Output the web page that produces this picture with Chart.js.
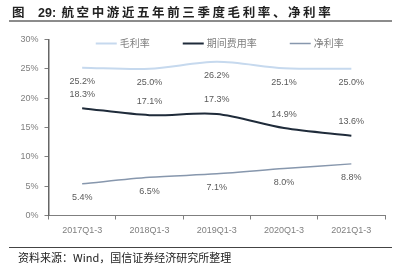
<!DOCTYPE html>
<html>
<head>
<meta charset="utf-8">
<script src="https://cdn.jsdelivr.net/npm/chart.js@4.4.1/dist/chart.umd.min.js"></script>
<style>
  body { margin: 0; background: #fff; }
  #wrap { position: relative; width: 394px; height: 268px; overflow: hidden; }
  #theChart { position: absolute; left: 0; top: 0; }
  #title { position: absolute; left: 12px; top: 2px; font: bold 12.5px "Noto Sans CJK SC", sans-serif; color: #222; letter-spacing: 2.6px; white-space: nowrap; }
  #title b { font-family: "Liberation Sans", Arial, sans-serif; letter-spacing: 0; }
  #topLine { position: absolute; left: 9px; top: 20px; width: 383px; height: 2px; background: #8c8c8c; }
  #bottomLine { position: absolute; left: 9px; top: 247px; width: 383px; height: 1px; background: #444; }
  #source { position: absolute; left: 18px; top: 249px; font: 11px "Noto Sans CJK SC", sans-serif; color: #222; white-space: nowrap; }
</style>
</head>
<body>
<div id="wrap">
  <canvas id="theChart" width="394" height="268"></canvas>
  <div id="title">图&nbsp;&nbsp;<b>29:</b>&nbsp;航空中游近五年前三季度毛利率、净利率</div>
  <div id="topLine"></div>
  <div id="bottomLine"></div>
  <div id="source">资料来源：Wind，国信证券经济研究所整理</div>
</div>
<script>
let ctx = document.getElementById("theChart").getContext("2d");

const years = ["2017Q1-3", "2018Q1-3", "2019Q1-3", "2020Q1-3", "2021Q1-3"];
const grossMargin = [25.2, 25.0, 26.2, 25.1, 25.0];
const expenseRate = [18.3, 17.1, 17.3, 14.9, 13.6];
const netMargin = [5.4, 6.5, 7.1, 8.0, 8.8];
const yTicks = [0, 5, 10, 15, 20, 25, 30];

const labelColor = "#595959";
const axisColor = "#7f7f7f";

// value labels: above or below each point
const valueLabels = {
  id: "valueLabels",
  afterDatasetsDraw(chart) {
    let c = chart.ctx;
    c.save();
    c.font = "9px 'Liberation Sans', Arial, sans-serif";
    c.fillStyle = labelColor;
    c.textAlign = "center";
    c.textBaseline = "middle";
    chart.data.datasets.forEach((ds, i) => {
      let meta = chart.getDatasetMeta(i);
      meta.data.forEach((pt, j) => {
        c.fillText(ds.data[j].toFixed(1) + "%", pt.x, pt.y + ds.labelShift);
      });
    });
    c.restore();
  }
};

// legend drawn inside the plot, near the top
const innerLegend = {
  id: "innerLegend",
  afterDraw(chart) {
    let c = chart.ctx;
    let area = chart.chartArea;
    c.save();
    c.font = "10px 'Noto Sans CJK SC', sans-serif";
    c.textBaseline = "middle";
    const lineW = 21, gap = 3, spacing = 33;
    let items = chart.data.datasets.map(ds => ({ ds: ds, w: lineW + gap + c.measureText(ds.label).width }));
    let total = items.reduce((s, it) => s + it.w, 0) + spacing * (items.length - 1);
    let x = (area.left + area.right) / 2 + 3 - total / 2;
    let y = 43.5;
    items.forEach(it => {
      c.strokeStyle = it.ds.borderColor;
      c.lineWidth = it.ds.borderWidth;
      c.beginPath();
      c.moveTo(x, y);
      c.lineTo(x + lineW, y);
      c.stroke();
      c.fillStyle = axisColor;
      c.fillText(it.ds.label, x + lineW + gap, y);
      x += it.w + spacing;
    });
    c.restore();
  }
};

let currentChart = new Chart(ctx, {
  type: "line",
  data: {
    labels: years,
    datasets: [
      { label: "毛利率", data: grossMargin, borderColor: "#c6d9ee", borderWidth: 2, labelShift: 14 },
      { label: "期间费用率", data: expenseRate, borderColor: "#1f2b3a", borderWidth: 2, labelShift: -14 },
      { label: "净利率", data: netMargin, borderColor: "#8797ad", borderWidth: 1.5, labelShift: 14 },
    ],
  },
  options: {
    responsive: false,
    animation: false,
    layout: { padding: { left: 0, right: 9, top: 39.5, bottom: 30 } },
    elements: {
      point: { radius: 0 },
      line: { tension: 0.3, fill: false },
    },
    plugins: {
      legend: { display: false },
      tooltip: { enabled: false },
    },
    scales: {
      x: {
        offset: true,
        grid: { display: true, drawOnChartArea: false, tickLength: 4, color: axisColor, offset: true },
        border: { color: axisColor, width: 1 },
        ticks: { color: axisColor, font: { size: 9, family: "'Liberation Sans', Arial, sans-serif" }, padding: 6, maxRotation: 0 },
        afterFit(scale) { scale.height = 22.5; },
      },
      y: {
        min: 0,
        max: 30,
        afterBuildTicks(scale) { scale.ticks = yTicks.map(v => ({ value: v })); },
        grid: { display: true, drawOnChartArea: false, tickLength: 4, color: axisColor },
        border: { color: "#666", width: 1.5 },
        ticks: { color: axisColor, font: { size: 9, family: "'Liberation Sans', Arial, sans-serif" }, padding: 6, callback: v => v + "%" },
        afterFit(scale) { scale.width = 48.5; },
      },
    },
  },
  plugins: [valueLabels, innerLegend],
});
</script>
</body>
</html>
